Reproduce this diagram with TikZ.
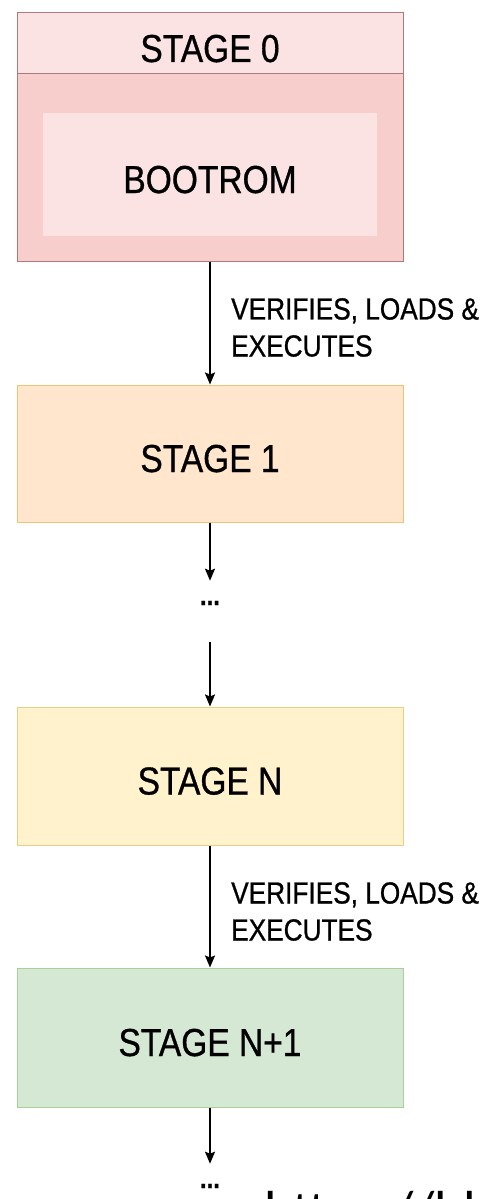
\documentclass[tikz,border=0pt]{standalone}
\usepackage{fontspec}
\setmainfont{Liberation Sans}[FakeStretch=0.86,FakeBold=0.8]
\newfontfamily\urlfont{Carlito}
\usetikzlibrary{arrows.meta}
\definecolor{redfill}{HTML}{F8CECC}
\definecolor{redlight}{HTML}{FBE3E3}
\definecolor{redline}{HTML}{A87C7C}
\definecolor{orfill}{HTML}{FFE6CC}
\definecolor{orline}{HTML}{EDC27A}
\definecolor{yefill}{HTML}{FFF2CC}
\definecolor{yeline}{HTML}{E8CF82}
\definecolor{grfill}{HTML}{D5E8D4}
\definecolor{grline}{HTML}{A8D098}
\tikzset{
  stagebox/.style={rectangle, inner sep=0pt, line width=1pt, minimum width=386pt},
  biglbl/.style={font=\fontsize{39}{39}\selectfont, text height=37pt, text depth=0pt},
  edgelbl/.style={font=\fontsize{30.5}{37}\selectfont, align=left, anchor=north west, inner sep=0pt},
  dotsnode/.style={font=\bfseries\fontsize{28}{28}\selectfont, inner xsep=0pt, inner ysep=20pt},
  arr/.style={-{Stealth[length=12pt,width=10pt,inset=2pt]}, line width=1.8pt, black},
}
\begin{document}
\begin{tikzpicture}[x=1pt,y=-1pt]
\useasboundingbox (0,0) rectangle (496,1199);
\clip (0,0) rectangle (496,1199);
\fill[white] (0,0) rectangle (496,1199);

% Stage 0
\node[stagebox, fill=redfill, draw=redline, minimum height=248pt] (s0) at (210,137) {};
\node[stagebox, biglbl, fill=redlight, draw=redline, minimum height=61pt] (s0h) at (210,43.5) {STAGE 0};
\node[rectangle, biglbl, inner sep=0pt, fill=redlight, minimum width=334pt, minimum height=123pt] (boot) at (210,174.5) {BOOTROM};

% Stage 1
\node[stagebox, biglbl, fill=orfill, draw=orline, minimum height=137pt] (s1) at (210,453.5) {STAGE 1};

% dots
\node[dotsnode] (d1) at (210,603) {...};

% Stage N
\node[stagebox, biglbl, fill=yefill, draw=yeline, minimum height=138pt] (sN) at (210,776) {STAGE N};

% Stage N+1
\node[stagebox, biglbl, fill=grfill, draw=grline, minimum height=139pt] (sN1) at (210,1037.5) {STAGE N+1};

\node[dotsnode] (d2) at (210,1186) {...};

% connectors
\draw[arr] (s0.south) -- (s1.north);
\draw[arr] (s1.south) -- (d1.north);
\draw[arr, shorten <=17pt] (d1.south) -- (sN.north);
\draw[arr] (sN.south) -- (sN1.north);
\draw[arr] (sN1.south) -- (d2.north);

% edge labels
\node[edgelbl] (l1) at (231,298) {VERIFIES, LOADS \&\\EXECUTES};
\node[edgelbl] (l2) at (231,882) {VERIFIES, LOADS \&\\EXECUTES};

% cut-off URL at the bottom
\node[anchor=base west, inner sep=0pt, font=\urlfont\fontsize{55}{55}\selectfont] (url) at (264,1229) {https://bl};
\end{tikzpicture}
\end{document}
